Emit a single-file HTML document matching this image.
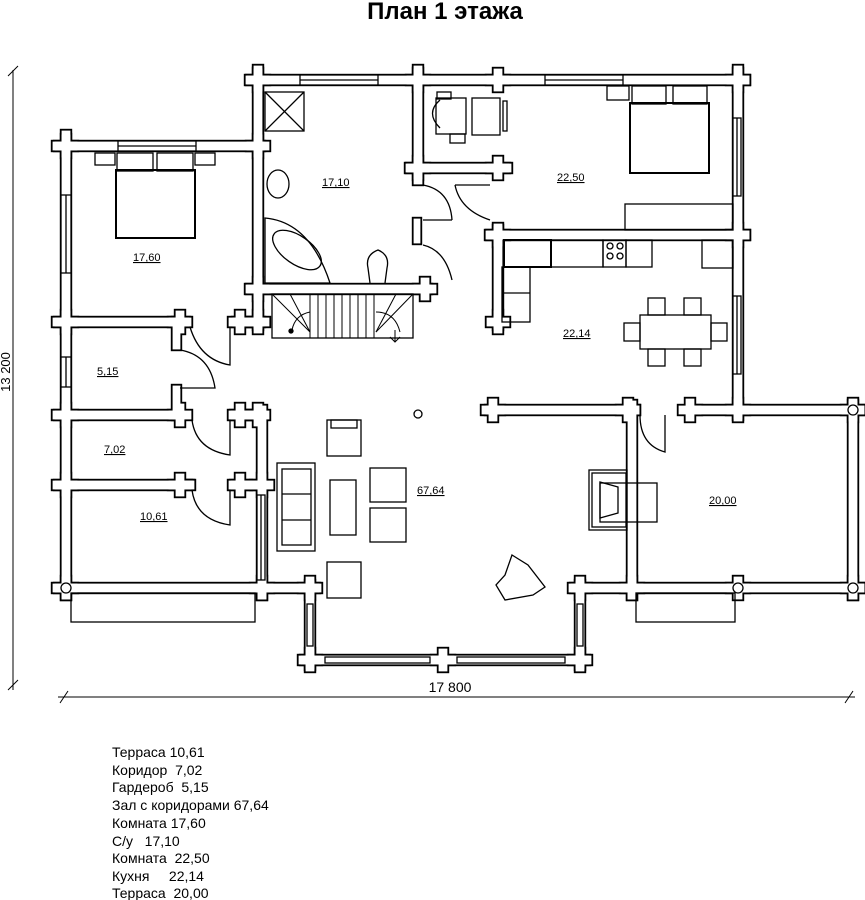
<!DOCTYPE html>
<html><head><meta charset="utf-8"><style>
html,body{margin:0;padding:0;background:#fff;}
svg{display:block;}
text{font-family:"Liberation Sans",sans-serif;white-space:pre;}
</style></head><body>
<svg width="865" height="900" viewBox="0 0 865 900" xmlns="http://www.w3.org/2000/svg" xml:space="preserve">
<rect width="865" height="900" fill="#fff"/>
<text x="445" y="19" font-size="24" font-weight="bold" text-anchor="middle">План 1 этажа</text>

<line x1="13" y1="70" x2="13" y2="690" stroke="#000" stroke-width="1"/>
<line x1="8" y1="76" x2="18" y2="66" stroke="#000"/>
<line x1="8" y1="690" x2="18" y2="680" stroke="#000"/>
<text x="0" y="0" font-size="13" transform="translate(10,372) rotate(-90)" text-anchor="middle">13 200</text>
<line x1="58" y1="697" x2="855" y2="697" stroke="#000" stroke-width="1"/>
<line x1="60" y1="703" x2="68" y2="691" stroke="#000"/>
<line x1="845" y1="703" x2="853" y2="691" stroke="#000"/>
<text x="450" y="692" font-size="14" text-anchor="middle">17 800</text>

<g id="walls">
<rect x="245" y="75" width="505" height="10"/>
<rect x="52" y="141" width="213" height="10"/>
<rect x="405" y="163" width="107" height="10"/>
<rect x="485" y="230" width="265" height="10"/>
<rect x="245" y="284" width="187" height="10"/>
<rect x="52" y="317" width="138" height="10"/>
<rect x="232" y="317" width="33" height="10"/>
<rect x="52" y="410" width="133" height="10"/>
<rect x="230" y="410" width="35" height="10"/>
<rect x="485" y="405" width="155" height="10"/>
<rect x="690" y="405" width="175" height="10"/>
<rect x="52" y="480" width="143" height="10"/>
<rect x="230" y="480" width="35" height="10"/>
<rect x="52" y="583" width="268" height="10"/>
<rect x="570" y="583" width="295" height="10"/>
<rect x="300" y="655" width="290" height="10"/>
<rect x="61" y="130" width="10" height="470"/>
<rect x="253" y="65" width="10" height="265"/>
<rect x="257" y="405" width="10" height="195"/>
<rect x="413" y="65" width="10" height="120"/>
<rect x="413" y="218" width="8" height="26"/>
<rect x="493" y="225" width="10" height="105"/>
<rect x="733" y="65" width="10" height="355"/>
<rect x="627" y="400" width="10" height="200"/>
<rect x="848" y="400" width="10" height="200"/>
<rect x="305" y="580" width="10" height="90"/>
<rect x="575" y="580" width="10" height="90"/>
<rect x="172" y="317" width="9" height="33"/>
<rect x="172" y="385" width="9" height="35"/>
<rect x="185" y="480" width="9" height="8"/>
</g>

<script>
(function(){
var ns="http://www.w3.org/2000/svg";
var posts=[[258,80],[418,80],[498,80],[738,80],[66,146],[258,146],[418,168],[498,168],[498,235],[738,235],[258,289],[425,289],[66,322],[180,322],[240,322],[258,322],[498,322],[66,415],[180,415],[240,415],[258,415],[493,410],[628,410],[738,410],[853,410],[66,485],[180,485],[240,485],[262,485],[66,588],[262,588],[310,588],[580,588],[632,588],[738,588],[853,588],[310,660],[443,660],[580,660],[690,410]];
var w=document.getElementById("walls");
var rects=[].slice.call(w.querySelectorAll("rect"));
posts.forEach(function(p){
 var a=document.createElementNS(ns,"rect");a.setAttribute("x",p[0]-12);a.setAttribute("y",p[1]-5);a.setAttribute("width",24);a.setAttribute("height",10);rects.push(a);
 var b=document.createElementNS(ns,"rect");b.setAttribute("x",p[0]-5);b.setAttribute("y",p[1]-12);b.setAttribute("width",10);b.setAttribute("height",24);rects.push(b);
});
var g1=document.createElementNS(ns,"g");g1.setAttribute("fill","#000");
var g2=document.createElementNS(ns,"g");g2.setAttribute("fill","#fff");
rects.forEach(function(r){
 var x=+r.getAttribute("x"),y=+r.getAttribute("y"),ww=+r.getAttribute("width"),hh=+r.getAttribute("height");
 var o=document.createElementNS(ns,"rect");o.setAttribute("x",x-1.2);o.setAttribute("y",y-1.2);o.setAttribute("width",ww+2.4);o.setAttribute("height",hh+2.4);g1.appendChild(o);
 var i=document.createElementNS(ns,"rect");i.setAttribute("x",x+0.6);i.setAttribute("y",y+0.6);i.setAttribute("width",ww-1.2);i.setAttribute("height",hh-1.2);g2.appendChild(i);
});
w.parentNode.insertBefore(g1,w);w.parentNode.insertBefore(g2,w);w.parentNode.removeChild(w);
})();
</script>

<g fill="none" stroke="#000" stroke-width="1.3">
<rect x="300" y="75" width="78" height="10" fill="#fff"/><line x1="300" y1="80" x2="378" y2="80"/>
<rect x="545" y="75" width="78" height="10" fill="#fff"/><line x1="545" y1="80" x2="623" y2="80"/>
<rect x="118" y="141" width="78" height="10" fill="#fff"/><line x1="118" y1="146" x2="196" y2="146"/>
<rect x="61" y="195" width="10" height="78" fill="#fff"/><line x1="66" y1="195" x2="66" y2="273"/>
<rect x="61" y="357" width="10" height="30" fill="#fff"/><line x1="66" y1="357" x2="66" y2="387"/>
<rect x="733" y="118" width="8" height="78" fill="#fff"/><line x1="737" y1="118" x2="737" y2="196"/>
<rect x="733" y="296" width="8" height="78" fill="#fff"/><line x1="737" y1="296" x2="737" y2="374"/>
<rect x="257" y="495" width="8" height="85" fill="#fff"/><line x1="261" y1="495" x2="261" y2="580"/>
<rect x="307" y="604" width="6" height="42" fill="#fff"/>
<rect x="577" y="604" width="6" height="42" fill="#fff"/>
<rect x="325" y="657" width="105" height="6" fill="#fff"/>
<rect x="457" y="657" width="108" height="6" fill="#fff"/>
<rect x="71" y="593" width="184" height="29"/>
<rect x="636" y="593" width="99" height="29"/>
<circle cx="66" cy="588" r="5"/><circle cx="738" cy="588" r="5"/><circle cx="853" cy="588" r="5"/><circle cx="853" cy="410" r="5"/>

<rect x="95" y="153" width="20" height="12"/><rect x="195" y="153" width="20" height="12"/>
<rect x="117" y="153" width="36" height="18"/><rect x="157" y="153" width="36" height="18"/>
<rect x="116" y="170" width="79" height="68" stroke-width="2"/>
<rect x="265" y="92" width="39" height="39"/><line x1="265" y1="92" x2="304" y2="131"/><line x1="304" y1="92" x2="265" y2="131"/>
<ellipse cx="278" cy="184" rx="11" ry="14"/>
<path d="M265 218 Q310 222 330 283 L265 283 Z"/>
<ellipse cx="297" cy="250" rx="28" ry="14" transform="rotate(35 297 250)"/>
<path d="M370 283 L368 268 Q365 255 378 250 Q390 255 387 268 L385 283"/>
<path d="M423 185 Q450 190 452 220"/><line x1="423" y1="220" x2="452" y2="220"/>
<path d="M423 245 Q445 250 452 280"/>
<path d="M455 185 Q460 210 490 220"/><line x1="455" y1="185" x2="490" y2="185"/>
<path d="M190 327 Q200 360 230 365 L230 327"/>
<path d="M180 350 Q210 355 215 388 L180 388"/>
<path d="M192 420 Q196 450 230 455 L230 420"/>
<path d="M192 490 Q196 520 230 525 L230 490"/>
<path d="M640 415 Q640 445 665 452 L665 415"/>
<rect x="272" y="294" width="141" height="44"/>
<g stroke-width="1">
<line x1="310" y1="294" x2="310" y2="338"/><line x1="318" y1="294" x2="318" y2="338"/><line x1="326" y1="294" x2="326" y2="338"/><line x1="334" y1="294" x2="334" y2="338"/><line x1="342" y1="294" x2="342" y2="338"/><line x1="350" y1="294" x2="350" y2="338"/><line x1="358" y1="294" x2="358" y2="338"/><line x1="366" y1="294" x2="366" y2="338"/><line x1="374" y1="294" x2="374" y2="338"/>
<line x1="272" y1="294" x2="310" y2="332"/><line x1="290" y1="294" x2="310" y2="332"/><path d="M292 330 Q295 315 310 312"/>
<line x1="413" y1="294" x2="376" y2="332"/><line x1="396" y1="294" x2="376" y2="332"/><path d="M376 312 Q395 312 400 332"/>
<line x1="395" y1="330" x2="395" y2="342"/><path d="M390 337 L395 342 L400 337"/>
</g>
<circle cx="291" cy="331" r="2" fill="#000"/>
<path d="M440 100 Q425 113 440 128"/><rect x="436" y="98" width="30" height="36"/>
<rect x="437" y="92" width="14" height="7"/><rect x="450" y="134" width="15" height="9"/>
<rect x="472" y="98" width="28" height="37"/><rect x="503" y="101" width="4" height="30"/>
<rect x="607" y="86" width="22" height="14"/>
<rect x="632" y="86" width="34" height="18"/><rect x="673" y="86" width="34" height="18"/>
<rect x="630" y="103" width="79" height="70" stroke-width="2"/>
<rect x="625" y="204" width="108" height="26"/>
<rect x="504" y="240" width="47" height="27" stroke-width="2"/>
<rect x="551" y="240" width="52" height="27"/><rect x="603" y="240" width="23" height="27"/>
<circle cx="610" cy="246" r="3"/><circle cx="620" cy="246" r="3"/><circle cx="610" cy="256" r="3"/><circle cx="620" cy="256" r="3"/>
<rect x="626" y="240" width="26" height="27"/>
<rect x="702" y="240" width="31" height="28"/>
<rect x="502" y="267" width="28" height="55"/><line x1="502" y1="293" x2="530" y2="293"/>
<rect x="640" y="315" width="71" height="34"/>
<rect x="648" y="298" width="17" height="17"/><rect x="684" y="298" width="17" height="17"/>
<rect x="648" y="349" width="17" height="17"/><rect x="684" y="349" width="17" height="17"/>
<rect x="624" y="323" width="16" height="18"/><rect x="711" y="323" width="16" height="18"/>
<circle cx="418" cy="414" r="4"/>
<rect x="327" y="420" width="34" height="36"/><rect x="331" y="420" width="26" height="8"/>
<rect x="277" y="463" width="38" height="88"/><rect x="282" y="469" width="29" height="76"/>
<line x1="282" y1="494" x2="311" y2="494"/><line x1="282" y1="520" x2="311" y2="520"/>
<rect x="330" y="480" width="26" height="55"/>
<rect x="370" y="468" width="36" height="34"/><rect x="370" y="508" width="36" height="34"/>
<rect x="327" y="562" width="34" height="36"/>
<path d="M512 555 L528 565 L545 587 L533 595 L505 600 L496 585 L505 575 Z"/>
<rect x="589" y="470" width="38" height="60"/><rect x="592" y="473" width="34" height="54"/>
<path d="M600 482 L618 487 L618 513 L600 518 Z"/><rect x="600" y="483" width="57" height="39"/>
</g>

<g font-size="11" text-decoration="underline">
<text x="322" y="186">17,10</text>
<text x="133" y="261">17,60</text>
<text x="97" y="375">5,15</text>
<text x="104" y="453">7,02</text>
<text x="140" y="520">10,61</text>
<text x="417" y="494">67,64</text>
<text x="557" y="181">22,50</text>
<text x="563" y="337">22,14</text>
<text x="709" y="504">20,00</text>
</g>

<g font-size="14">
<text x="112" y="757">Терраса 10,61</text>
<text x="112" y="775">Коридор  7,02</text>
<text x="112" y="792">Гардероб  5,15</text>
<text x="112" y="810">Зал с коридорами 67,64</text>
<text x="112" y="828">Комната 17,60</text>
<text x="112" y="846">С/у   17,10</text>
<text x="112" y="863">Комната  22,50</text>
<text x="112" y="881">Кухня     22,14</text>
<text x="112" y="898">Терраса  20,00</text>
</g>
</svg>
</body></html>
